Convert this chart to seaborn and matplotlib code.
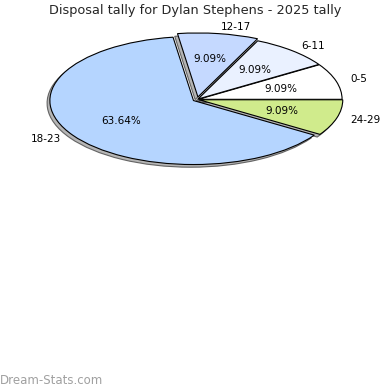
import matplotlib
matplotlib.use("Agg")
import matplotlib.pyplot as plt
import seaborn as sns

sns.set_style("white")
plt.rcParams['font.family'] = ['DejaVu Sans']

labels = ["0-5", "6-11", "12-17", "18-23", "24-29"]
values = [1, 1, 1, 7, 1]
colors = ["#ffffff", "#eaf1ff", "#c5d9ff", "#b5d5ff", "#d0eb8c"]
explode = [0.01, 0.01, 0.04, 0.03, 0.015]
title = "Disposal tally for Dylan Stephens - 2025 tally"
watermark = "Dream-Stats.com"

fig = plt.figure(figsize=(3.9, 3.9), dpi=100)
ax = fig.add_axes([17.6/390, 210.5/390, 359/390, 160/390])
wedges, texts, autotexts = ax.pie(
    values, labels=labels, colors=colors, explode=explode,
    autopct="%.2f%%", startangle=0, counterclock=True,
    shadow=dict(ox=-0.014, oy=-0.03, facecolor="#a8a8a8",
                edgecolor="#505050", linewidth=0.8, alpha=0.85),
    wedgeprops=dict(edgecolor="black", linewidth=0.8),
    textprops=dict(fontsize=7.5, color="black"),
)
ax.set_aspect("auto")
ax.set_xlim(-1.25, 1.25)
ax.set_ylim(-1.25, 1.25)

fig.text(0.5, 1 - 10.5/390, title, ha="center", va="center", fontsize=9.3)
fig.text(0, 1 - 380/390, watermark, ha="left", va="center", fontsize=8.5, color="#a0a0a0")

fig.savefig("out.png", dpi=100)
